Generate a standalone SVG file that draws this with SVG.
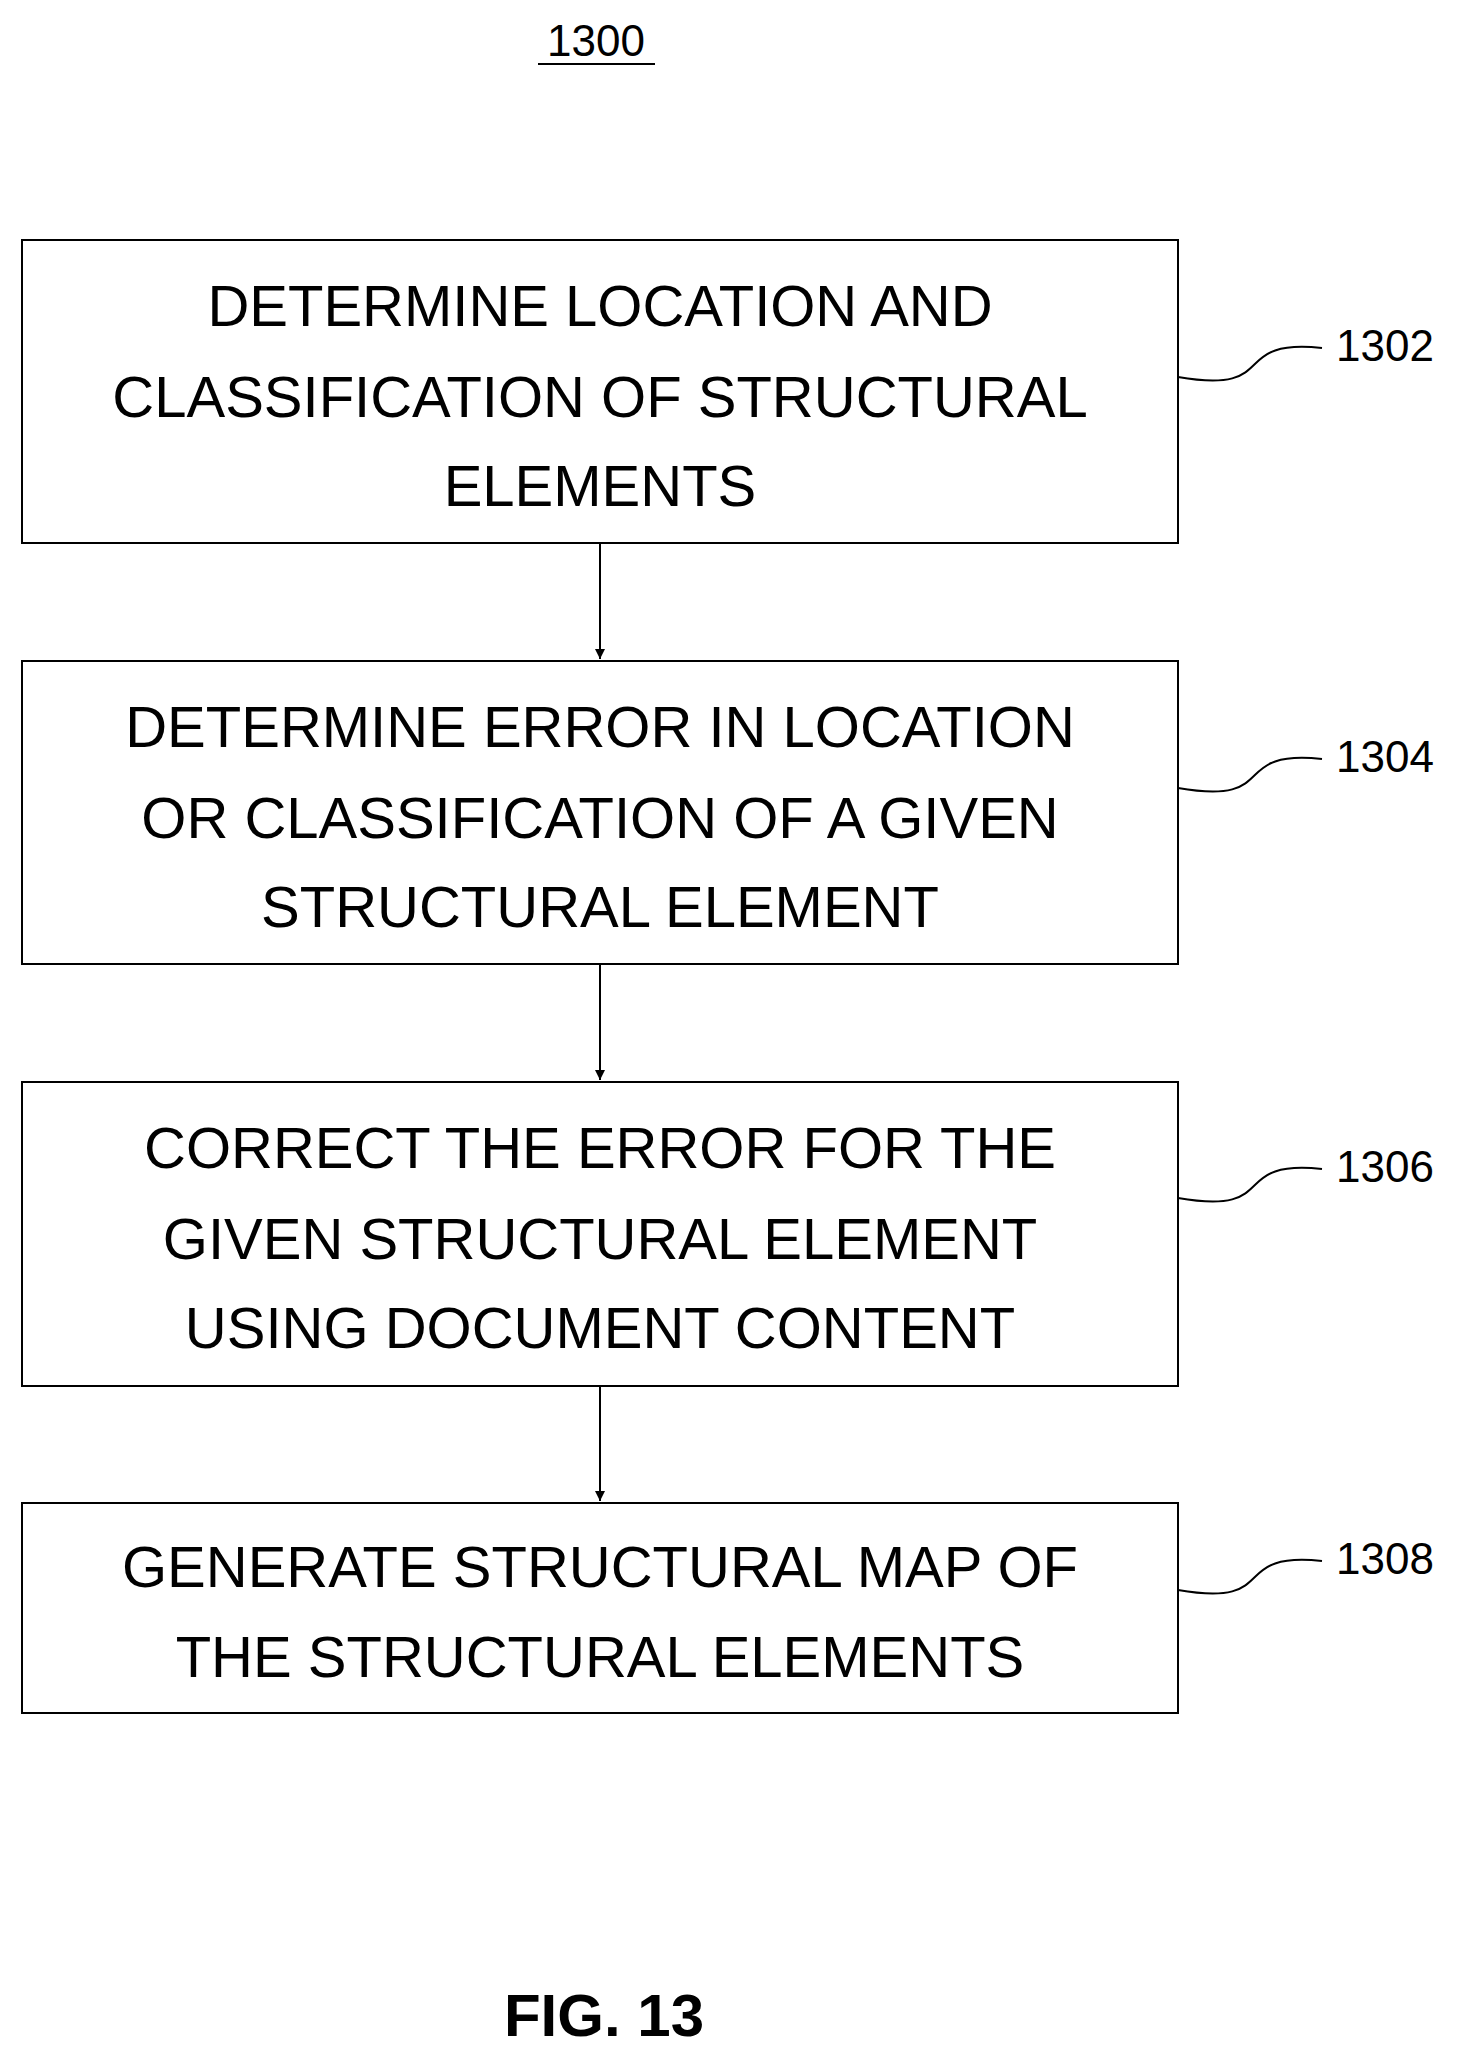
<svg xmlns="http://www.w3.org/2000/svg" width="1468" height="2058" viewBox="0 0 1468 2058">
<style>
.b{fill:#fff;stroke:#000;stroke-width:2}
.t{font-family:"Liberation Sans",Arial,sans-serif;font-size:58px;text-anchor:middle;fill:#000}
.l{font-family:"Liberation Sans",Arial,sans-serif;font-size:44px;fill:#000}
.c{fill:none;stroke:#000;stroke-width:2}
</style>
<defs><marker id="a" markerWidth="12" markerHeight="12" refX="10" refY="5" orient="auto" markerUnits="userSpaceOnUse"><path d="M0,0L10,5L0,10z"/></marker></defs>
<rect width="1468" height="2058" fill="#fff"/>
<g id="title"><text class="l" x="596" y="56" text-anchor="middle" font-size="46">1300</text><line x1="538" y1="64" x2="655" y2="64" stroke="#000" stroke-width="2"/></g>
<g id="n1302"><rect class="b" x="22" y="240" width="1156" height="303"/>
<text class="t" x="600" y="326">DETERMINE LOCATION AND</text><text class="t" x="600" y="417">CLASSIFICATION OF STRUCTURAL</text><text class="t" x="600" y="506">ELEMENTS</text>
<text class="l" x="1336" y="361">1302</text></g>
<g id="n1304"><rect class="b" x="22" y="661" width="1156" height="303"/>
<text class="t" x="600" y="747">DETERMINE ERROR IN LOCATION</text><text class="t" x="600" y="838">OR CLASSIFICATION OF A GIVEN</text><text class="t" x="600" y="927">STRUCTURAL ELEMENT</text>
<text class="l" x="1336" y="772">1304</text></g>
<g id="n1306"><rect class="b" x="22" y="1082" width="1156" height="304"/>
<text class="t" x="600" y="1168">CORRECT THE ERROR FOR THE</text><text class="t" x="600" y="1259">GIVEN STRUCTURAL ELEMENT</text><text class="t" x="600" y="1348">USING DOCUMENT CONTENT</text>
<text class="l" x="1336" y="1182">1306</text></g>
<g id="n1308"><rect class="b" x="22" y="1503" width="1156" height="210"/>
<text class="t" x="600" y="1587">GENERATE STRUCTURAL MAP OF</text><text class="t" x="600" y="1677">THE STRUCTURAL ELEMENTS</text>
<text class="l" x="1336" y="1574">1308</text></g>
<g id="connectors">
<line class="c" x1="600" y1="543" x2="600" y2="659" marker-end="url(#a)"/>
<line class="c" x1="600" y1="964" x2="600" y2="1080" marker-end="url(#a)"/>
<line class="c" x1="600" y1="1386" x2="600" y2="1501" marker-end="url(#a)"/>
<path class="c" d="M1178,377C1282,395 1227,338 1322,348"/>
<path class="c" d="M1178,788C1282,806 1227,749 1322,759"/>
<path class="c" d="M1178,1198C1282,1216 1227,1159 1322,1169"/>
<path class="c" d="M1178,1590C1282,1608 1227,1551 1322,1561"/>
</g>
<g id="fig"><text x="604" y="2036" font-family="'Liberation Sans',Arial,sans-serif" font-size="60" font-weight="bold" text-anchor="middle">FIG. 13</text></g>
</svg>
